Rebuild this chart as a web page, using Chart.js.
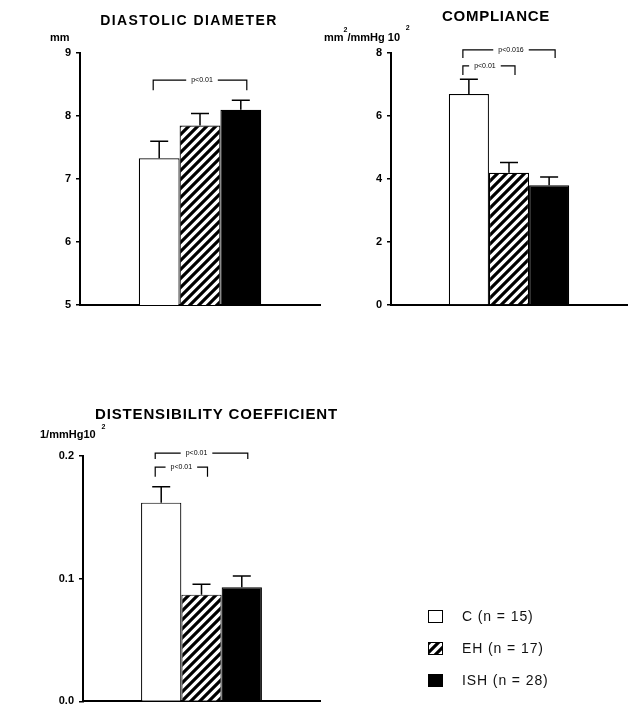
<!DOCTYPE html>
<html>
<head>
<meta charset="utf-8">
<script src="https://cdn.jsdelivr.net/npm/chart.js@4"></script>
<style>
  body { margin: 0; background: #fff; width: 629px; height: 713px; position: relative; overflow: hidden; }
  .box { position: absolute; }
</style>
</head>
<body>
<div class="box" style="left:0;top:0;width:325px;height:320px"><canvas id="diameter"></canvas></div>
<div class="box" style="left:320px;top:0;width:309px;height:320px"><canvas id="compliance"></canvas></div>
<div class="box" style="left:0;top:370px;width:629px;height:343px"><canvas id="distens"></canvas></div>
<script>
// groups
const groups = ['C (n = 15)', 'EH (n = 17)', 'ISH (n = 28)'];

// diastolic diameter, mm (mean and SEM)
const diameterMean = [7.33, 7.85, 8.10];
const diameterSem = [0.27, 0.19, 0.15];
const diameterTicks = [5, 6, 7, 8, 9];
const diameterP = ['p<0.01'];

// compliance, mm2/mmHg 10^2
const complianceMean = [6.7, 4.2, 3.8];
const complianceSem = [0.47, 0.32, 0.26];
const complianceTicks = [0, 2, 4, 6, 8];
const complianceP = ['p<0.01', 'p<0.016'];

// distensibility coefficient, 1/mmHg 10^2
const distensMean = [0.162, 0.087, 0.093];
const distensSem = [0.013, 0.0085, 0.0093];
const distensTicks = [0.0, 0.1, 0.2];
const distensP = ['p<0.01', 'p<0.01'];

const FONT = '"Liberation Sans", Arial, sans-serif';

// bracket specs per canvas, kept outside chart options
const bracketSpecs = {};

function hatch() {
    const c = document.createElement('canvas');
    c.width = c.height = 9;
    const g = c.getContext('2d');
    g.fillStyle = '#fff';
    g.fillRect(0, 0, 9, 9);
    g.strokeStyle = '#000';
    g.lineWidth = 3.2;
    g.beginPath();
    g.moveTo(-1, 10); g.lineTo(10, -1);
    g.moveTo(-2, 2); g.lineTo(2, -2);
    g.moveTo(7, 11); g.lineTo(11, 7);
    g.stroke();
    return g.createPattern(c, 'repeat');
}
const fills = ['#fff', hatch(), '#000'];

function makeDatasets(means, sems) {
    return groups.map((g, i) => ({
        label: g,
        data: [means[i]],
        sem: sems[i],
        backgroundColor: fills[i],
        borderColor: '#000',
        borderWidth: 1.2,
        borderSkipped: 'start',
        categoryPercentage: 0.51,
        barPercentage: 1
    }));
}

const errorBars = {
    id: 'errorBars',
    afterDatasetsDraw(chart) {
        const ctx = chart.ctx, y = chart.scales.y;
        ctx.save();
        ctx.strokeStyle = '#000';
        ctx.lineWidth = 1.5;
        chart.data.datasets.forEach((ds, i) => {
            const bar = chart.getDatasetMeta(i).data[0];
            const top = y.getPixelForValue(ds.data[0] + ds.sem);
            ctx.beginPath();
            ctx.moveTo(bar.x, bar.y);
            ctx.lineTo(bar.x, top);
            ctx.moveTo(bar.x - 9, top);
            ctx.lineTo(bar.x + 9, top);
            ctx.stroke();
        });
        ctx.restore();
    }
};

// significance brackets between bars
const brackets = {
    id: 'brackets',
    afterDraw(chart) {
        const items = bracketSpecs[chart.canvas.id] || [];
        const ctx = chart.ctx, y = chart.scales.y;
        ctx.save();
        ctx.strokeStyle = '#000';
        ctx.fillStyle = '#000';
        ctx.lineWidth = 1.2;
        ctx.font = '7px ' + FONT;
        ctx.textAlign = 'center';
        ctx.textBaseline = 'middle';
        items.forEach(b => {
            const x1 = chart.getDatasetMeta(b.from).data[0].x - 6;
            const x2 = chart.getDatasetMeta(b.to).data[0].x + 6;
            const yt = y.getPixelForValue(b.top);
            const yd = y.getPixelForValue(b.drop);
            const xm = (x1 + x2) / 2 + b.shift;
            const half = ctx.measureText(b.label).width / 2 + 5;
            ctx.beginPath();
            ctx.moveTo(x1, yd); ctx.lineTo(x1, yt); ctx.lineTo(xm - half, yt);
            ctx.moveTo(xm + half, yt); ctx.lineTo(x2, yt); ctx.lineTo(x2, yd);
            ctx.stroke();
            ctx.fillText(b.label, xm, yt);
        });
        ctx.restore();
    }
};

const headings = {
    id: 'headings',
    afterDraw(chart, args, o) {
        const ctx = chart.ctx;
        ctx.save();
        ctx.fillStyle = '#000';
        ctx.textBaseline = 'alphabetic';
        ctx.font = 'bold ' + o.titleSize + 'px ' + FONT;
        ctx.letterSpacing = o.titleSpacing + 'px';
        ctx.textAlign = o.titleAlign;
        ctx.fillText(o.title, o.titleX, o.titleY);
        ctx.letterSpacing = '0px';
        ctx.textAlign = 'left';
        let x = o.unitX;
        o.unit.forEach(([t, rise]) => {
            ctx.font = 'bold ' + (rise ? 7 : 11) + 'px ' + FONT;
            ctx.fillText(t, x, o.unitY - (rise || 0));
            x += ctx.measureText(t).width;
        });
        ctx.restore();
    }
};

const boxLegend = {
    id: 'boxLegend',
    afterDraw(chart, args, o) {
        if (!o.show) return;
        const ctx = chart.ctx;
        ctx.save();
        ctx.font = '14px ' + FONT;
        ctx.letterSpacing = '0.9px';
        ctx.textBaseline = 'middle';
        chart.data.datasets.forEach((ds, i) => {
            const top = o.y + i * o.gap;
            ctx.fillStyle = ds.backgroundColor;
            ctx.fillRect(o.x, top, 15, 13);
            ctx.strokeStyle = '#000';
            ctx.lineWidth = 1;
            ctx.strokeRect(o.x + 0.5, top + 0.5, 14, 12);
            ctx.fillStyle = '#111';
            ctx.fillText(ds.label, o.x + 34, top + 7);
        });
        ctx.restore();
    }
};

function drawChart(id, cfg) {
    bracketSpecs[id] = cfg.brackets;
    const ctx = document.getElementById(id);
    return new Chart(ctx, {
        type: 'bar',
        data: {
            labels: [''],
            datasets: makeDatasets(cfg.means, cfg.sems)
        },
        options: {
            responsive: true,
            maintainAspectRatio: false,
            animation: false,
            layout: { padding: cfg.padding },
            scales: {
                x: {
                    ticks: { display: false },
                    grid: { display: false },
                    border: { color: '#000', width: 2 },
                    afterFit(s) { s.height = 0; }
                },
                y: {
                    min: cfg.ticks[0],
                    max: cfg.ticks[cfg.ticks.length - 1],
                    afterBuildTicks(s) { s.ticks = cfg.ticks.map(v => ({ value: v })); },
                    ticks: {
                        color: '#000',
                        padding: 5,
                        font: { family: FONT, size: 11, weight: 'bold' },
                        callback: cfg.fmt
                    },
                    grid: { drawOnChartArea: false, tickLength: 4, color: '#000', lineWidth: 1.5 },
                    border: { color: '#000', width: 2 },
                    afterFit(s) { s.width = cfg.axisWidth; }
                }
            },
            plugins: {
                legend: { display: false },
                tooltip: { enabled: false },
                headings: cfg.headings,
                boxLegend: cfg.legend || { show: false }
            }
        },
        plugins: [errorBars, brackets, headings, boxLegend]
    });
}

drawChart('diameter', {
    means: diameterMean, sems: diameterSem, ticks: diameterTicks,
    fmt: v => v,
    axisWidth: 80,
    padding: { top: 53, bottom: 15, left: 0, right: 5 },
    headings: {
        title: 'DIASTOLIC DIAMETER', titleX: 189, titleY: 25, titleSize: 14, titleSpacing: 1.4, titleAlign: 'center',
        unit: [['mm']], unitX: 50, unitY: 41
    },
    brackets: [{ from: 0, to: 2, top: 8.57, drop: 8.41, label: diameterP[0], shift: 2 }]
});

drawChart('compliance', {
    means: complianceMean, sems: complianceSem, ticks: complianceTicks,
    fmt: v => v,
    axisWidth: 71,
    padding: { top: 53, bottom: 15, left: 0, right: 2 },
    headings: {
        title: 'COMPLIANCE', titleX: 176, titleY: 21, titleSize: 15, titleSpacing: 0.7, titleAlign: 'center',
        unit: [['mm'], ['2', 9], ['/mmHg 10'], ['   2', 11]], unitX: 4, unitY: 41
    },
    brackets: [
        { from: 0, to: 1, top: 7.59, drop: 7.3, label: complianceP[0], shift: -4 },
        { from: 0, to: 2, top: 8.1, drop: 7.84, label: complianceP[1], shift: 2 }
    ]
});

drawChart('distens', {
    means: distensMean, sems: distensSem, ticks: distensTicks,
    fmt: v => v.toFixed(1),
    axisWidth: 83,
    padding: { top: 86, bottom: 6, left: 0, right: 309 },
    headings: {
        title: 'DISTENSIBILITY COEFFICIENT', titleX: 95, titleY: 49, titleSize: 15, titleSpacing: 0.85, titleAlign: 'left',
        unit: [['1/mmHg10'], ['   2', 9]], unitX: 40, unitY: 68
    },
    brackets: [
        { from: 0, to: 1, top: 0.191, drop: 0.183, label: distensP[0], shift: 0 },
        { from: 0, to: 2, top: 0.2024, drop: 0.1976, label: distensP[1], shift: -5 }
    ],
    legend: { show: true, x: 428, y: 240, gap: 32 }
});
</script>
</body>
</html>
